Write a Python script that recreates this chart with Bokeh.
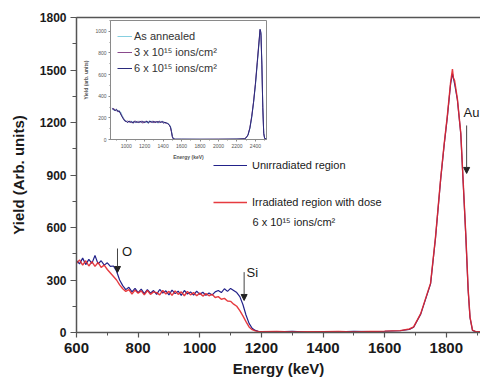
from bokeh.plotting import figure
from bokeh.models import (Legend, LegendItem, Label, Arrow, NormalHead, LinearAxis,
                          SingleIntervalTicker, FixedTicker, Range1d)
from bokeh.embed import file_html
from bokeh.resources import INLINE

FONT = "Liberation Sans"

# ---------------- main spectrum data ----------------
energy_unirr = [600, 610, 620, 630, 640, 650, 660, 670, 680, 690, 700, 710, 720, 730, 740,
                750, 760, 770, 780, 790, 800, 810, 820, 830, 840, 850, 860, 870, 880, 890,
                900, 910, 920, 930, 940, 950, 960, 970, 980, 990, 1000, 1010, 1020, 1030, 1040,
                1050, 1060, 1070, 1080, 1090, 1100, 1110, 1120, 1130, 1140, 1150, 1160, 1170, 1180, 1190,
                1200, 1250, 1300, 1350, 1400, 1450, 1500, 1550, 1600, 1650, 1680, 1694, 1717, 1749,
                1765, 1782, 1793, 1803, 1814, 1820, 1827, 1836, 1847, 1855, 1863, 1871, 1877, 1885,
                1895, 1911]
yield_unirr = [410, 392, 425, 388, 418, 395, 440, 392, 410, 385, 398, 378, 380, 350, 300,
               268, 245, 258, 232, 252, 228, 248, 222, 245, 225, 240, 218, 246, 225, 238,
               215, 242, 222, 236, 212, 240, 220, 232, 214, 236, 218, 230, 212, 226, 214,
               232, 240, 228, 250, 235, 252, 240, 228, 205, 160, 100, 52, 24, 12, 7,
               5, 4, 6, 3, 5, 4, 6, 5, 7, 10, 18, 30, 105, 278,
               540, 880, 1070, 1225, 1420, 1480, 1420, 1330, 1135, 850, 565, 240, 85, 12,
               5, 4]

energy_irr = [600, 610, 620, 630, 640, 650, 660, 670, 680, 690, 700, 710, 720, 730, 740,
              750, 760, 770, 780, 790, 800, 810, 820, 830, 840, 850, 860, 870, 880, 890,
              900, 910, 920, 930, 940, 950, 960, 970, 980, 990, 1000, 1010, 1020, 1030, 1040,
              1050, 1060, 1070, 1080, 1090, 1100, 1110, 1120, 1130, 1140, 1150, 1160, 1170, 1180, 1190,
              1200, 1250, 1300, 1350, 1400, 1450, 1500, 1550, 1600, 1650, 1680, 1694, 1717, 1749,
              1765, 1782, 1793, 1803, 1814, 1820, 1823, 1827, 1836, 1847, 1855, 1863, 1871, 1877,
              1885, 1895, 1911]
yield_irr = [395, 415, 385, 410, 380, 405, 378, 400, 372, 385, 360, 340, 320, 300, 272,
             250, 235, 245, 220, 242, 225, 238, 215, 240, 218, 232, 228, 215, 240, 220,
             235, 212, 238, 218, 232, 210, 235, 215, 228, 210, 225, 208, 222, 210, 218,
             200, 205, 190, 195, 180, 178, 162, 150, 125, 95, 62, 32, 16, 9, 6,
             4, 6, 3, 5, 4, 6, 3, 6, 8, 11, 20, 32, 108, 282,
             545, 885, 1075, 1232, 1430, 1505, 1455, 1440, 1335, 1140, 855, 570, 245, 88,
             13, 5, 4]

x_ticks_interval = 200
y_ticks_interval = 300

# ---------------- inset data ----------------
inset_energy = [850, 865, 880, 895, 910, 925, 940, 955, 970, 985, 1000, 1015, 1030, 1045, 1060,
                1075, 1090, 1105, 1120, 1135, 1150, 1165, 1180, 1195, 1210, 1225, 1240, 1255, 1270,
                1285, 1300, 1315, 1330, 1345, 1360, 1375, 1390, 1405, 1420, 1435, 1450, 1465, 1480,
                1490, 1500, 1510, 1530, 1600, 1800, 2000, 2200, 2280, 2300, 2320, 2340, 2360, 2380,
                2400, 2420, 2440, 2450, 2460, 2470, 2480, 2490, 2500, 2520]
inset_as_annealed = [285, 270, 280, 262, 270, 250, 255, 225, 200, 180, 172, 160, 168, 155, 170,
                     158, 166, 152, 170, 160, 172, 155, 165, 158, 170, 152, 168, 160, 172,
                     155, 166, 158, 168, 150, 165, 160, 172, 155, 162, 148, 150, 140, 120,
                     80, 30, 8, 3, 2, 2, 2, 3, 6, 15, 40, 100, 200, 340,
                     500, 700, 900, 1000, 985, 700, 300, 60, 10, 5]
inset_3e15 = [278, 288, 265, 275, 255, 262, 240, 215, 195, 175, 165, 172, 158, 168, 152,
              165, 160, 172, 155, 168, 158, 170, 150, 166, 162, 172, 155, 165, 158,
              170, 152, 168, 160, 170, 152, 166, 158, 165, 150, 155, 145, 135, 110,
              70, 25, 6, 3, 2, 2, 3, 3, 7, 18, 45, 110, 215, 350,
              520, 720, 920, 1010, 960, 680, 290, 55, 9, 4]
inset_6e15 = [292, 275, 268, 280, 260, 265, 235, 210, 188, 170, 168, 155, 172, 160, 165,
              150, 170, 158, 165, 152, 168, 160, 170, 155, 162, 168, 150, 172, 162,
              160, 170, 155, 165, 158, 170, 155, 168, 150, 160, 152, 148, 138, 115,
              75, 28, 7, 2, 3, 2, 2, 4, 6, 16, 42, 105, 210, 345,
              510, 710, 910, 1020, 990, 690, 295, 58, 10, 5]

AXIS_COL = "#555555"
TEXT_COL = "#1a1a1a"

# ---------------- main figure ----------------
p = figure(width=480, height=383, x_range=Range1d(600, 1911), y_range=Range1d(0, 1800),
           output_backend="svg", toolbar_location=None,
           min_border_left=76, min_border_right=0, min_border_top=17, min_border_bottom=51)
p.outline_line_color = None
p.grid.visible = False
p.background_fill_color = "white"
p.border_fill_color = "white"

r_u = p.line(energy_unirr, yield_unirr, line_color="#22228a", line_width=1.2)
r_i = p.line(energy_irr, yield_irr, line_color="#e3262b", line_width=1.4, line_alpha=0.9)

xa = p.xaxis[0]
xa.ticker = SingleIntervalTicker(interval=x_ticks_interval, num_minor_ticks=2)
ya = p.yaxis[0]
ya.ticker = SingleIntervalTicker(interval=y_ticks_interval, num_minor_ticks=2)
for ax in (xa, ya):
    ax.axis_line_color = AXIS_COL
    ax.axis_line_width = 1.5
    ax.major_tick_line_color = AXIS_COL
    ax.minor_tick_line_color = AXIS_COL
    ax.major_tick_line_width = 1.2
    ax.major_tick_in = 0
    ax.minor_tick_in = 0
    ax.major_label_text_font = FONT
    ax.major_label_text_font_style = "bold"
    ax.major_label_text_color = TEXT_COL
    ax.axis_label_text_font = FONT
    ax.axis_label_text_font_style = "bold"
    ax.axis_label_text_color = TEXT_COL
    ax.axis_label_text_font_size = "15px"
xa.axis_label = "Energy (keV)"
xa.major_tick_out = 5
xa.minor_tick_out = 3
xa.major_label_text_font_size = "15px"
xa.major_label_standoff = 5
xa.axis_label_standoff = 4
ya.axis_label = "Yield (Arb. units)"
ya.major_tick_out = 6
ya.minor_tick_out = 4
ya.major_label_text_font_size = "12px"
ya.major_label_standoff = 4
ya.axis_label_standoff = 10

top = LinearAxis(ticker=FixedTicker(ticks=[]),
                 major_tick_out=0, major_tick_in=0, minor_tick_out=0, minor_tick_in=0,
                 major_label_standoff=0,
                 axis_line_color=AXIS_COL, axis_line_width=1.5)
p.add_layout(top, "above")

leg = Legend(items=[LegendItem(label="Unirradiated region", renderers=[r_u]),
                    LegendItem(label="Irradiated region with dose", renderers=[r_i])],
             location=(137, 120), padding=0, margin=0, spacing=17,
             glyph_width=34, glyph_height=20, label_height=20, label_standoff=5,
             border_line_color=None, background_fill_alpha=0,
             label_text_font=FONT, label_text_font_size="11px", label_text_color=TEXT_COL)
p.add_layout(leg)

p.add_layout(Label(x=1171, y=634, text="6 x 10¹⁵ ions/cm²", text_font=FONT,
                   text_font_size="11px", text_color=TEXT_COL, text_baseline="middle"))

# element markers
for tx, ty, t, fs in [(748, 463, "O", "13px"), (1152, 343, "Si", "13px"), (1856, 1257, "Au", "13px")]:
    p.add_layout(Label(x=tx, y=ty, text=t, text_font=FONT, text_font_size=fs,
                       text_color=TEXT_COL, text_baseline="middle"))
for ax_, ys, ye in [(733, 480, 343), (1144, 345, 183), (1866, 1183, 909)]:
    p.add_layout(Arrow(x_start=ax_, y_start=ys, x_end=ax_, y_end=ye,
                       line_color="#444444", line_width=1,
                       end=NormalHead(size=6, fill_color="#222222", line_color="#222222")))

# ---------------- inset figure ----------------
ins = figure(width=188, height=143, x_range=Range1d(830, 2520), y_range=Range1d(0, 1100),
             output_backend="svg", toolbar_location=None,
             min_border_left=26, min_border_right=2, min_border_top=1, min_border_bottom=20,
             styles={"position": "absolute", "left": "80px", "top": "19px", "z-index": "5"})
ins.grid.visible = False
ins.outline_line_color = "#8a8a8a"
ins.outline_line_width = 1
ins.background_fill_color = "white"
ins.border_fill_color = "white"

ra = ins.line(inset_energy, inset_as_annealed, line_color="#86cfe0", line_width=1)
rb = ins.line(inset_energy, inset_3e15, line_color="#8a4a8c", line_width=1)
rc = ins.line(inset_energy, inset_6e15, line_color="#2a2a7c", line_width=1)

ix = ins.xaxis[0]
ix.ticker = SingleIntervalTicker(interval=200, num_minor_ticks=2)
iy = ins.yaxis[0]
iy.ticker = SingleIntervalTicker(interval=200, num_minor_ticks=2)
for ax in (ix, iy):
    ax.axis_line_color = "#8a8a8a"
    ax.major_tick_line_color = "#8a8a8a"
    ax.minor_tick_line_color = "#8a8a8a"
    ax.major_tick_out = 2
    ax.major_tick_in = 0
    ax.minor_tick_out = 1
    ax.minor_tick_in = 0
    ax.major_label_text_font = FONT
    ax.major_label_text_font_size = "5px"
    ax.major_label_text_color = "#555555"
    ax.major_label_standoff = 2
    ax.axis_label_text_font = FONT
    ax.axis_label_text_font_size = "5px"
    ax.axis_label_text_font_style = "bold"
    ax.axis_label_text_color = "#555555"
    ax.axis_label_standoff = 3
ix.axis_label = "Energy (keV)"
iy.axis_label = "Yield (arb. units)"

ileg = Legend(items=[LegendItem(label="As annealed", renderers=[ra]),
                     LegendItem(label="3 x 10¹⁵ ions/cm²", renderers=[rb]),
                     LegendItem(label="6 x 10¹⁵ ions/cm²", renderers=[rc])],
              location=(7, 64), padding=0, margin=0, spacing=2,
              glyph_width=15, glyph_height=14, label_height=14, label_standoff=2,
              border_line_color=None, background_fill_alpha=0,
              label_text_font=FONT, label_text_font_size="11px", label_text_color="#333333")
ins.add_layout(ileg)

open("out.html", "w").write(file_html([p, ins], INLINE))
